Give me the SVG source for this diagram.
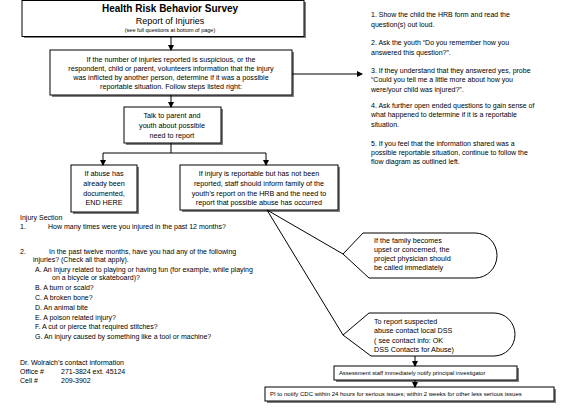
<svg xmlns="http://www.w3.org/2000/svg" width="576" height="408" viewBox="0 0 576 408">
<defs>
<marker id="ah" markerWidth="6" markerHeight="6" refX="5" refY="3" orient="auto" markerUnits="userSpaceOnUse">
<path d="M0,0 L6,3 L0,6 Z" fill="#000"/>
</marker>
</defs>
<style>
text{font-family:"Liberation Sans",Arial,sans-serif;fill:#000}
.box{fill:#fff;stroke:#000;stroke-width:1}
.sh{fill:#7f7f7f}
.c{text-anchor:middle}
.t7{font-size:7.2px}
.t68{font-size:7px}
.t72{font-size:7.2px}
.t55{font-size:5.5px}
.s58{font-size:5.8px}
.s60{font-size:6px}
.ln{stroke:#000;stroke-width:1;fill:none}
</style>
<rect width="576" height="408" fill="#fff"/>

<g id="title">
<rect class="sh" x="24" y="2" width="282" height="36"/>
<rect class="box" x="22" y="0.5" width="282" height="36"/>
<text class="c" x="170" y="12" font-size="10" font-weight="bold">Health Risk Behavior Survey</text>
<text class="c" x="170" y="24" font-size="9">Report of Injuries</text>
<text class="c t55" x="170" y="32">(see full questions at bottom of page)</text>
</g>

<g id="suspicious">
<rect class="sh" x="52" y="52" width="242" height="45"/>
<rect class="box" x="50" y="50" width="242" height="45"/>
<text class="c t7" x="171" y="62">If the number of injuries reported is suspicious, or the</text>
<text class="c t7" x="171" y="71">respondent, child or parent, volunteers information that the injury</text>
<text class="c t7" x="171" y="80">was inflicted by another person, determine if it was a possible</text>
<text class="c t7" x="171" y="89">reportable situation.  Follow steps listed right:</text>
</g>

<g id="steps">
<text class="t68" x="371" y="17">1.  Show the child the HRB form and read the</text>
<text class="t68" x="371" y="27">question(s) out loud.</text>
<text class="t68" x="371" y="45">2.  Ask the youth “Do you remember how you</text>
<text class="t68" x="371" y="55">answered this question?”.</text>
<text class="t68" x="371" y="73">3.  If they understand that they answered yes, probe</text>
<text class="t68" x="371" y="82">“Could you tell me a little more about how you</text>
<text class="t68" x="371" y="92">were/your child was injured?”.</text>
<text class="t68" x="371" y="108">4.  Ask further open ended questions to gain sense of</text>
<text class="t68" x="371" y="117">what happened to determine if it is a reportable</text>
<text class="t68" x="371" y="127">situation.</text>
<text class="t68" x="371" y="146">5.  If you feel that the information shared was a</text>
<text class="t68" x="371" y="155">possible reportable situation, continue to follow the</text>
<text class="t68" x="371" y="164">flow diagram as outlined left.</text>
</g>

<g id="talk">
<rect class="sh" x="126" y="109" width="97" height="36"/>
<rect class="box" x="124" y="107" width="97" height="36"/>
<text class="c t7" x="172" y="118">Talk to parent and</text>
<text class="c t7" x="172" y="128">youth about possible</text>
<text class="c t7" x="172" y="138">need to report</text>
</g>

<g id="documented">
<rect class="sh" x="73" y="167" width="66" height="47"/>
<rect class="box" x="71" y="165" width="66" height="47"/>
<text class="c t7" x="104" y="176">If abuse has</text>
<text class="c t7" x="104" y="186">already been</text>
<text class="c t7" x="104" y="196">documented,</text>
<text class="c t7" x="104" y="205">END HERE</text>
</g>

<g id="reportable">
<rect class="sh" x="182" y="167" width="158" height="45"/>
<rect class="box" x="180" y="165" width="158" height="45"/>
<text class="c t7" x="259" y="176">If injury is reportable but has not been</text>
<text class="c t7" x="259" y="186">reported, staff should inform family of the</text>
<text class="c t7" x="259" y="196">youth’s report on the HRB and the need to</text>
<text class="c t7" x="259" y="205">report that possible abuse has occurred</text>
</g>

<g id="questions">
<text class="t68" x="20" y="220">Injury Section</text>
<text class="t68" x="20" y="229">1.</text>
<text class="t68" x="48" y="229">How many times were you injured in the past 12 months?</text>
<text class="t68" x="20" y="254">2.</text>
<text class="t68" x="49" y="254">In the past twelve months, have you had any of the following</text>
<text class="t68" x="33" y="262">injuries? (Check all that apply).</text>
<text class="t68" x="35" y="272">A.  An injury related to playing or having fun (for example, while playing</text>
<text class="t68" x="52" y="280">on a bicycle or skateboard)?</text>
<text class="t68" x="35" y="290">B.  A burn or scald?</text>
<text class="t68" x="35" y="300">C.  A broken bone?</text>
<text class="t68" x="35" y="310">D.  An animal bite</text>
<text class="t68" x="35" y="320">E.  A poison related injury?</text>
<text class="t68" x="35" y="329">F.  A cut or pierce that required stitches?</text>
<text class="t68" x="35" y="339">G.  An injury caused by something like a tool or machine?</text>
<text class="t68" x="20" y="365">Dr. Wolraich’s contact information</text>
<text class="t68" x="20" y="374">Office #</text>
<text class="t68" x="61" y="374">271-3824 ext. 45124</text>
<text class="t68" x="20" y="383">Cell #</text>
<text class="t68" x="61" y="383">209-3902</text>
</g>

<g id="family">
<path class="box" d="M363,233 L475,233 A22,22.5 0 0 1 475,278 L369,278 L343,254 Z"/>
<text class="t72" x="374" y="243">If the family becomes</text>
<text class="t72" x="374" y="252">upset or concerned, the</text>
<text class="t72" x="374" y="261">project physician should</text>
<text class="t72" x="374" y="270">be called immediately</text>
</g>

<g id="dss">
<path class="box" d="M369,313 L494,313 A21,21.5 0 0 1 494,356 L371,356 L343,335 Z"/>
<text class="t72" x="374" y="324">To report suspected</text>
<text class="t72" x="374" y="333">abuse contact local DSS</text>
<text class="t72" x="374" y="343">( see contact info:  OK</text>
<text class="t72" x="374" y="352">DSS Contacts for Abuse)</text>
</g>

<g id="assessment">
<rect class="sh" x="336" y="368" width="183" height="14"/>
<rect class="box" x="334" y="366" width="183" height="14"/>
<text class="s58" x="339" y="375">Assessment staff immediately notify principal investigator</text>
</g>

<g id="pi">
<rect class="sh" x="267" y="389" width="289" height="14"/>
<rect class="box" x="265" y="387" width="289" height="14"/>
<text class="s60" x="270" y="396">PI to notify CDC within 24 hours for serious issues; within 2 weeks for other less serious issues</text>
</g>

<g id="connectors">
<line class="ln" x1="171" y1="37" x2="171" y2="50" marker-end="url(#ah)"/>
<line class="ln" x1="292" y1="74" x2="362" y2="74" marker-end="url(#ah)"/>
<line class="ln" x1="171" y1="95" x2="171" y2="107" marker-end="url(#ah)"/>
<polyline class="ln" points="171,143 171,153"/>
<polyline class="ln" points="103,153 266,153"/>
<line class="ln" x1="103" y1="153" x2="103" y2="165" marker-end="url(#ah)"/>
<line class="ln" x1="266" y1="153" x2="266" y2="165" marker-end="url(#ah)"/>
<line class="ln" x1="267" y1="210" x2="343" y2="254"/>
<line class="ln" x1="267" y1="210" x2="343" y2="335"/>
<line class="ln" x1="415" y1="356" x2="415" y2="366" marker-end="url(#ah)"/>
<line class="ln" x1="415" y1="380" x2="415" y2="387" marker-end="url(#ah)"/>
</g>
</svg>
